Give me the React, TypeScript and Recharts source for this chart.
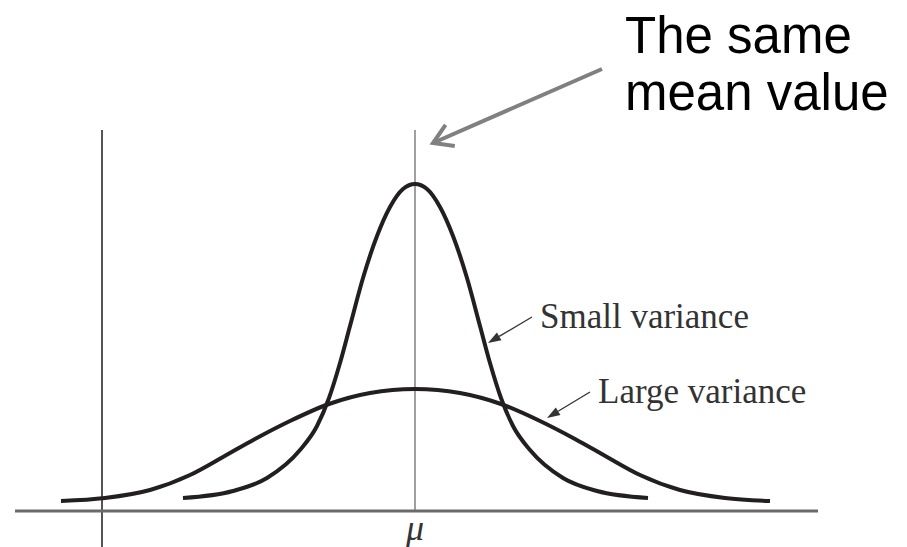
import { LineChart, Line, XAxis, YAxis, ReferenceLine } from 'recharts'

// x is measured from the mean (mu = 0), y is curve height above the baseline
const SMALL_X = [-2.32, -1.82, -1.48, -1.15, -0.98, -0.86, -0.75, -0.65, -0.52, -0.38, -0.25, -0.12, 0, 0.12, 0.25, 0.38, 0.52, 0.65, 0.75, 0.86, 0.98, 1.15, 1.48, 1.82, 2.33]
const SMALL_Y = [0.13, 0.2, 0.33, 0.61, 0.85, 1.13, 1.48, 1.85, 2.33, 2.75, 3.04, 3.22, 3.27, 3.22, 3.04, 2.75, 2.33, 1.85, 1.48, 1.13, 0.85, 0.61, 0.33, 0.2, 0.13]

const LARGE_X = [-3.54, -3.1, -2.65, -2.25, -1.92, -1.6, -1.25, -0.86, -0.45, 0, 0.45, 0.86, 1.25, 1.6, 1.92, 2.25, 2.65, 3.1, 3.55]
const LARGE_Y = [0.1, 0.13, 0.21, 0.36, 0.54, 0.72, 0.9, 1.07, 1.18, 1.22, 1.18, 1.07, 0.9, 0.72, 0.54, 0.36, 0.21, 0.13, 0.1]

const MEAN = 0
const MEAN_LABEL = 'μ'
const AXIS_X = -3.13
const TOP_Y = 3.81

const smallData = SMALL_X.map((x, i) => ({ x, y: SMALL_Y[i] }))
const largeData = LARGE_X.map((x, i) => ({ x, y: LARGE_Y[i] }))

const INK = '#231f20'

function MuTick(props: any) {
  const { x, y } = props
  return (
    <text
      x={x}
      y={y + 21}
      textAnchor="middle"
      fontFamily="'Liberation Serif', 'Times New Roman', serif"
      fontStyle="italic"
      fontSize={36}
      fill="#333"
    >
      {MEAN_LABEL}
    </text>
  )
}

// thick gray arrow with an open head, plus the two-line caption at its tail
function MeanArrow(props: any) {
  const { x1, y1, x2, y2 } = props
  const ang = Math.atan2(y2 - y1, x2 - x1)
  const len = 22
  const spread = 0.55
  const ax = x2 - len * Math.cos(ang - spread)
  const ay = y2 - len * Math.sin(ang - spread)
  const bx = x2 - len * Math.cos(ang + spread)
  const by = y2 - len * Math.sin(ang + spread)
  const font = "'Liberation Sans', Arial, sans-serif"
  return (
    <g>
      <line x1={x1} y1={y1} x2={x2} y2={y2} stroke="#808080" strokeWidth={4} />
      <polyline
        points={`${ax},${ay} ${x2},${y2} ${bx},${by}`}
        fill="none"
        stroke="#808080"
        strokeWidth={4}
      />
      <text x={x1 + 23} y={y1 - 16} fontFamily={font} fontSize={51} fill="#000">
        The same
      </text>
      <text x={x1 + 23} y={y1 + 41} fontFamily={font} fontSize={51} fill="#000">
        mean value
      </text>
    </g>
  )
}

// thin pointer with a filled head, label sits just past the tail
function makePointer(label: string) {
  return (props: any) => {
    const { x1, y1, x2, y2 } = props
    const ang = Math.atan2(y2 - y1, x2 - x1)
    const len = 13
    const w = 4.5
    const bx = x2 - len * Math.cos(ang)
    const by = y2 - len * Math.sin(ang)
    const px = -Math.sin(ang) * w
    const py = Math.cos(ang) * w
    return (
      <g>
        <line x1={x1} y1={y1} x2={bx} y2={by} stroke="#333" strokeWidth={1.3} />
        <polygon
          points={`${x2},${y2} ${bx + px},${by + py} ${bx - px},${by - py}`}
          fill="#333"
        />
        <text
          x={x1 + 8}
          y={y1 + 11}
          fontFamily="'Liberation Serif', 'Times New Roman', serif"
          fontSize={35}
          fill="#333"
        >
          {label}
        </text>
      </g>
    )
  }
}

const SmallPointer = makePointer('Small variance')
const LargePointer = makePointer('Large variance')

export default function App() {
  return (
    <div style={{ position: 'absolute', left: 0, top: 0, background: '#fff' }}>
      <LineChart width={907} height={547} margin={{ top: 0, right: 89, bottom: 0, left: 15 }}>
        <XAxis
          dataKey="x"
          type="number"
          domain={[-4, 4.03]}
          ticks={[MEAN]}
          tickLine={false}
          axisLine={{ stroke: '#6b6b6b', strokeWidth: 3 }}
          height={36}
          tick={<MuTick />}
          allowDataOverflow
        />
        <YAxis type="number" domain={[0, 5.11]} hide allowDataOverflow />

        <ReferenceLine
          segment={[{ x: AXIS_X, y: -0.4 }, { x: AXIS_X, y: TOP_Y }]}
          stroke="#555"
          strokeWidth={2}
          ifOverflow="visible"
        />
        <ReferenceLine
          segment={[{ x: MEAN, y: 0 }, { x: MEAN, y: TOP_Y }]}
          stroke="#a0a0a0"
          strokeWidth={2}
          ifOverflow="visible"
        />

        <Line
          data={largeData}
          dataKey="y"
          type="monotone"
          stroke={INK}
          strokeWidth={4}
          dot={false}
          isAnimationActive={false}
        />
        <Line
          data={smallData}
          dataKey="y"
          type="monotone"
          stroke={INK}
          strokeWidth={4}
          dot={false}
          isAnimationActive={false}
        />

        <ReferenceLine
          segment={[{ x: 1.87, y: 4.42 }, { x: 0.18, y: 3.68 }]}
          shape={MeanArrow}
          ifOverflow="visible"
        />
        <ReferenceLine
          segment={[{ x: 1.17, y: 1.94 }, { x: 0.73, y: 1.68 }]}
          shape={SmallPointer}
          ifOverflow="visible"
        />
        <ReferenceLine
          segment={[{ x: 1.75, y: 1.19 }, { x: 1.32, y: 0.93 }]}
          shape={LargePointer}
          ifOverflow="visible"
        />
      </LineChart>
    </div>
  )
}
